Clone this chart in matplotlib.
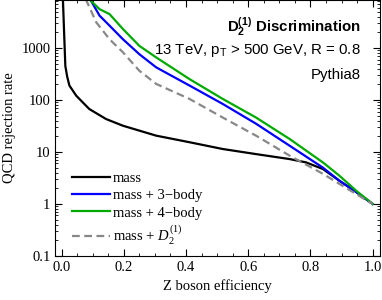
import matplotlib
matplotlib.use("Agg")
import matplotlib.pyplot as plt
from matplotlib.ticker import FixedLocator, LogLocator, MultipleLocator, NullFormatter

plt.rcParams['font.family'] = ['Liberation Serif', 'DejaVu Serif']
plt.rcParams['mathtext.fontset'] = 'custom'
plt.rcParams['mathtext.rm'] = 'Liberation Serif'
plt.rcParams['mathtext.it'] = 'Liberation Serif:italic'
plt.rcParams['mathtext.bf'] = 'Liberation Sans:bold'
plt.rcParams['mathtext.sf'] = 'Liberation Sans'

# mass only
mass_eff = [0.004, 0.008, 0.012, 0.018, 0.025, 0.047, 0.089, 0.143, 0.197, 0.304,
            0.411, 0.518, 0.625, 0.733, 0.786, 0.84, 0.893, 0.947, 1.0]
mass_rej = [9500, 2000, 450, 280, 190, 121, 67, 43, 32, 20.6,
            15.4, 11.4, 9.1, 7.3, 6.3, 4.7, 2.8, 1.7, 1.0]

# mass + 3-body
m3_eff = [0.088, 0.122, 0.154, 0.197, 0.25, 0.304, 0.411, 0.518, 0.625, 0.733,
          0.84, 0.893, 0.947, 1.0]
m3_rej = [9500, 4200, 2700, 1480, 760, 425, 190, 84, 35, 13.2,
          5.0, 2.8, 1.7, 1.0]

# mass + 4-body
m4_eff = [0.082, 0.122, 0.154, 0.197, 0.25, 0.304, 0.411, 0.518, 0.625, 0.733,
          0.84, 0.893, 0.947, 1.0]
m4_rej = [9500, 5600, 4500, 2330, 1100, 660, 253, 105, 46, 17.8,
          6.3, 3.5, 1.8, 1.0]

# mass + D2
md2_eff = [0.075, 0.111, 0.154, 0.197, 0.25, 0.304, 0.411, 0.518, 0.625, 0.733,
           0.84, 0.947, 1.0]
md2_rej = [9500, 3150, 1480, 830, 365, 204, 105, 46, 20.6, 8.5,
           3.8, 1.55, 1.0]

fig = plt.figure(figsize=(3.82, 3.0), dpi=100)
ax = fig.add_axes([0.145, 0.147, 0.85, 0.853])

ax.plot(mass_eff, mass_rej, color='black', lw=1.6, label='mass')
ax.plot(m3_eff, m3_rej, color='#0000ff', lw=1.6, label='mass + 3\u2212body')
ax.plot(m4_eff, m4_rej, color='#00aa00', lw=1.6, label='mass + 4\u2212body')
ax.plot(md2_eff, md2_rej, color='#888888', lw=1.6, ls=(0, (3.5, 2)), label=r'mass + $D_2^{(1)}$')

ax.set_yscale('log')
ax.set_xlim(-0.02, 1.024)
ax.set_ylim(0.1, 8400)

ax.set_xticks([0, 0.2, 0.4, 0.6, 0.8, 1.0])
ax.set_xticklabels(['0.0', '0.2', '0.4', '0.6', '0.8', '1.0'])
ax.xaxis.set_minor_locator(MultipleLocator(0.05))
ax.yaxis.set_major_locator(FixedLocator([0.1, 1, 10, 100, 1000]))
ax.set_yticklabels(['0.1', '1', '10', '100', '1000'])
ax.yaxis.set_minor_locator(LogLocator(base=10, subs=range(2, 10)))
ax.yaxis.set_minor_formatter(NullFormatter())
ax.tick_params(which='both', direction='in', top=True, right=True, labelsize=10.5)
ax.tick_params(which='major', length=5)
ax.tick_params(which='minor', length=2.5)

ax.set_xlabel('Z boson efficiency', fontsize=10.5)
ax.set_ylabel('QCD rejection rate', fontsize=10.5)

ax.text(0.94, 0.94, r'$\mathbf{D_2^{(1)}}$' + ' Discrimination', transform=ax.transAxes,
        ha='right', va='top', fontsize=10.8, family='Liberation Sans', fontweight='bold')
ax.text(0.94, 0.835, r'13 TeV, p$_\mathsf{T}$ > 500 GeV, R = 0.8', transform=ax.transAxes,
        ha='right', va='top', fontsize=10.8, family='Liberation Sans')
ax.text(0.94, 0.735, 'Pythia8', transform=ax.transAxes,
        ha='right', va='top', fontsize=10.8, family='Liberation Sans')

ax.legend(loc='lower left', bbox_to_anchor=(0.02, -0.005), frameon=False, fontsize=10.5,
          handlelength=2.6, handletextpad=0.2, labelspacing=0.28, borderaxespad=0.3)

fig.savefig('out.png', dpi=100)
